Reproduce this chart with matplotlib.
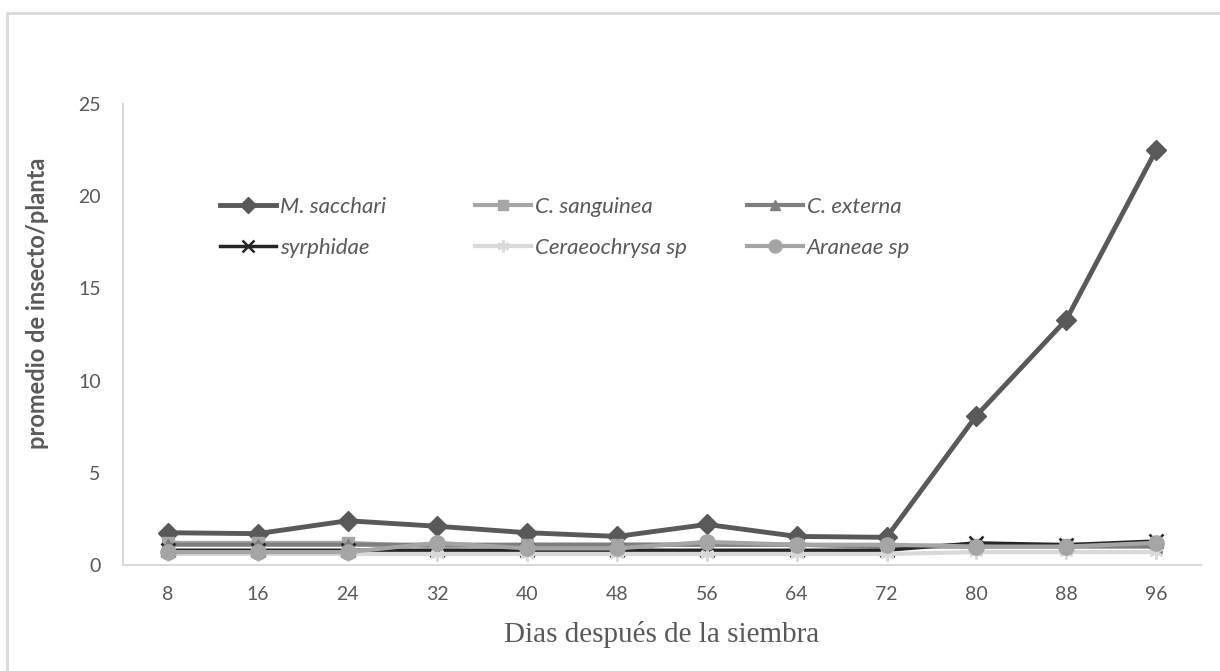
import matplotlib
matplotlib.use("Agg")
import matplotlib.pyplot as plt
from matplotlib.patches import Rectangle
from matplotlib.font_manager import FontProperties
from matplotlib.legend import Legend

# Days after sowing
dias = [8, 16, 24, 32, 40, 48, 56, 64, 72, 80, 88, 96]

# Mean insects per plant for each taxon
m_sacchari = [1.75, 1.70, 2.40, 2.10, 1.75, 1.55, 2.20, 1.55, 1.50, 8.10, 13.30, 22.50]
c_sanguinea = [1.20, 1.20, 1.20, 1.00, 1.10, 1.10, 1.10, 1.10, 1.00, 1.10, 1.10, 1.10]
c_externa = [1.10, 1.10, 1.10, 1.10, 1.10, 1.10, 1.10, 1.10, 1.00, 1.00, 1.00, 1.00]
syrphidae = [0.80, 0.80, 0.80, 0.80, 0.80, 0.80, 0.80, 0.80, 0.80, 1.20, 1.10, 1.30]
ceraeochrysa = [0.60, 0.60, 0.60, 0.60, 0.60, 0.60, 0.60, 0.60, 0.60, 0.70, 0.70, 0.70]
araneae = [0.70, 0.70, 0.70, 1.20, 0.90, 0.90, 1.25, 1.10, 1.10, 1.00, 1.00, 1.20]

nombres = ["M. sacchari", "C. sanguinea", "C. externa",
           "syrphidae", "Ceraeochrysa sp", "Araneae sp"]
series = [m_sacchari, c_sanguinea, c_externa, syrphidae, ceraeochrysa, araneae]
colores = ["#595959", "#A6A6A6", "#7F7F7F", "#262626", "#D9D9D9", "#A5A5A5"]
marcadores = ["D", "s", "^", "x", (6, 2, 0), "o"]
tam_marcador = [10, 9, 9, 10, 10, 11]
grosor = [3.5, 3.0, 3.0, 2.5, 3.0, 3.0]

yticks = [0, 5, 10, 15, 20, 25]
gris_texto = "#595959"
gris_borde = "#D9D9D9"

fig = plt.figure(figsize=(12.2, 6.71), dpi=100)
fig.patch.set_facecolor("white")

# Outer chart-area frame
fig.patches.append(Rectangle((7 / 1220, -0.05), 1.2, 1 - 13 / 671 + 0.05,
                             transform=fig.transFigure, fill=False,
                             edgecolor=gris_borde, linewidth=2.0, zorder=0))

ax = fig.add_axes([123 / 1220, 1 - 565 / 671, (1201 - 123) / 1220, (565 - 104) / 671])

x = list(range(len(dias)))
handles = []
for i, (nom, ys) in enumerate(zip(nombres, series)):
    mew = 1.8 if marcadores[i] == "x" or isinstance(marcadores[i], tuple) else 1.0
    (ln,) = ax.plot(x, ys, color=colores[i], lw=grosor[i], marker=marcadores[i],
                    markersize=tam_marcador[i], markerfacecolor=colores[i],
                    markeredgecolor=colores[i], markeredgewidth=mew,
                    label=nom, zorder=3 + i, clip_on=False)
    handles.append(ln)

ax.set_xlim(-0.5, len(dias) - 0.5)
ax.set_ylim(0, 25)
ax.set_yticks(yticks)
ax.set_xticks(x)
ax.set_xticklabels([str(d) for d in dias])

for s in ["top", "right"]:
    ax.spines[s].set_visible(False)
for s in ["left", "bottom"]:
    ax.spines[s].set_color(gris_borde)
    ax.spines[s].set_linewidth(1.5)

ax.tick_params(axis="both", length=0, colors=gris_texto, labelsize=14)
ax.tick_params(axis="y", pad=16)
ax.tick_params(axis="x", pad=15)
for lab in ax.get_xticklabels() + ax.get_yticklabels():
    lab.set_family("Lato")

ax.set_ylabel("promedio de insecto/planta", fontsize=17, fontweight="bold",
              family="Lato", color=gris_texto)
ax.yaxis.set_label_coords((49 - 123) / 1078, (565 - 303) / 461)
ax.set_xlabel("Dias después de la siembra", fontsize=21, family="Liberation Serif",
              color=gris_texto, labelpad=13)

# Legend laid out as three columns of two entries
fuente_leyenda = FontProperties(family="Lato", style="italic", weight="normal", size=16)
columnas = [(0, 3), (1, 4), (2, 5)]
anclas = [220, 475, 747]
for (a, b), xa in zip(columnas, anclas):
    leg = Legend(ax, [handles[a], handles[b]], [nombres[a], nombres[b]],
                 loc="upper left",
                 bbox_to_anchor=((xa - 123) / 1078, 1 - (197 - 104) / 461),
                 frameon=False, handlelength=2.5, handletextpad=0.2,
                 labelspacing=0.95, borderpad=0, borderaxespad=0,
                 prop=fuente_leyenda, labelcolor=gris_texto, markerscale=0.85)
    ax.add_artist(leg)

fig.savefig("out.png", dpi=100, facecolor="white")
